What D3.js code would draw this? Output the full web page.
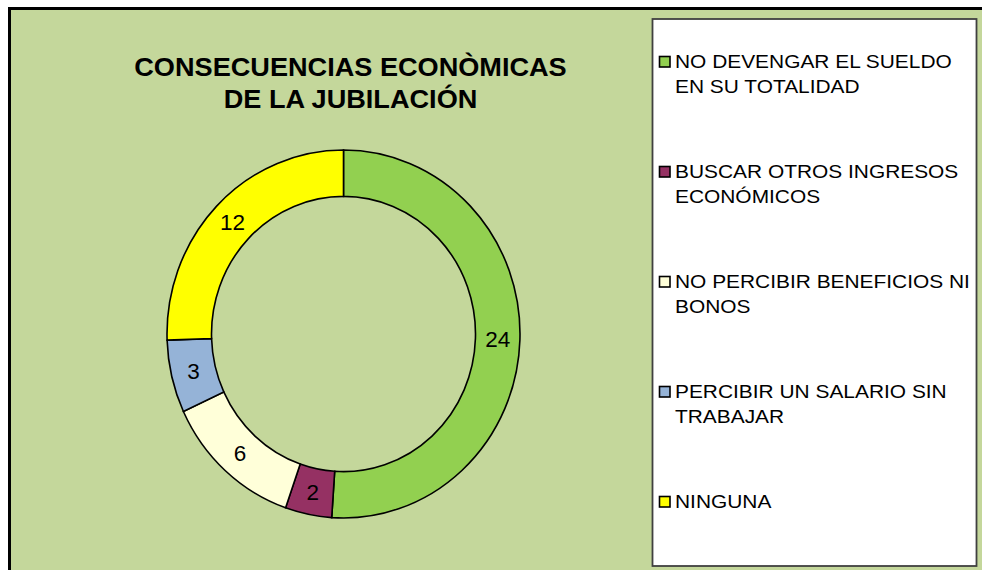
<!DOCTYPE html>
<html>
<head>
<meta charset="utf-8">
<script src="https://cdn.jsdelivr.net/npm/d3@7/dist/d3.min.js"></script>
<style>
  html, body { margin: 0; padding: 0; background: #ffffff; }
  svg { display: block; }
</style>
</head>
<body>
<svg id="chart" width="982" height="570"></svg>
<script>
const titleLines = ["CONSECUENCIAS ECONÒMICAS", "DE LA JUBILACIÓN"];
const categories = [
  ["NO DEVENGAR EL SUELDO", "EN SU TOTALIDAD"],
  ["BUSCAR OTROS INGRESOS", "ECONÓMICOS"],
  ["NO PERCIBIR BENEFICIOS NI", "BONOS"],
  ["PERCIBIR UN SALARIO SIN", "TRABAJAR"],
  ["NINGUNA"]
];
const values = [24, 2, 6, 3, 12];
const colors = ["#92d050", "#953163", "#ffffd9", "#95b3d7", "#ffff00"];

const svg = d3.select("#chart");

// frame
svg.append("rect").attr("x", 8).attr("y", 7).attr("width", 990).attr("height", 580).attr("fill", "#000");
svg.append("rect").attr("x", 11).attr("y", 10).attr("width", 990).attr("height", 580).attr("fill", "#c4d79b");

// title (slightly wide glyphs as in the reference)
const titleX = 350.5, sx = 1.085;
const title = svg.append("g")
  .attr("transform", `translate(${titleX},0) scale(${sx},1)`)
  .append("text")
  .attr("text-anchor", "middle")
  .attr("font-family", "Liberation Sans, Arial, sans-serif")
  .attr("font-weight", "bold")
  .attr("font-size", 25)
  .attr("fill", "#000");
titleLines.forEach((t, i) => {
  title.append("tspan").attr("x", 0).attr("y", 76.5 + i * 32).text(t);
});

// donut
const cx = 343.5, cy = 334, rOuter = 176.5, rInner = 132, yScale = 184 / 176.5;
const pie = d3.pie().sort(null).value(d => d);
const arcs = pie(values);
const arc = d3.arc().innerRadius(rInner).outerRadius(rOuter);
const labelArc = d3.arc().innerRadius((rInner + rOuter) / 2).outerRadius((rInner + rOuter) / 2);

const g = svg.append("g").attr("transform", `translate(${cx},${cy}) scale(1,${yScale})`);
g.selectAll("path")
  .data(arcs)
  .join("path")
  .attr("d", arc)
  .attr("fill", (d, i) => colors[i])
  .attr("stroke", "#000")
  .attr("stroke-width", 1.6)
  .attr("vector-effect", "non-scaling-stroke");

svg.append("g").attr("transform", `translate(${cx},${cy})`)
  .selectAll("text")
  .data(arcs)
  .join("text")
  .attr("x", d => labelArc.centroid(d)[0])
  .attr("y", d => labelArc.centroid(d)[1] * yScale)
  .attr("dy", "0.36em")
  .attr("text-anchor", "middle")
  .attr("font-family", "Liberation Sans, Arial, sans-serif")
  .attr("font-size", 22.5)
  .attr("fill", "#000")
  .text(d => d.data);

// legend
svg.append("rect")
  .attr("x", 652.5).attr("y", 19).attr("width", 324).attr("height", 547)
  .attr("fill", "#ffffff").attr("stroke", "#404040").attr("stroke-width", 1.8);

const leg = svg.append("g");
categories.forEach((lines, i) => {
  const base = 68 + i * 110;
  leg.append("rect")
    .attr("x", 659.5).attr("y", base - 11.5).attr("width", 10.5).attr("height", 10.5)
    .attr("fill", colors[i]).attr("stroke", "#000").attr("stroke-width", 1.6);
  const t = leg.append("g")
    .attr("transform", "translate(675,0) scale(1.1,1)")
    .append("text")
    .attr("font-family", "Liberation Sans, Arial, sans-serif")
    .attr("font-size", 19)
    .attr("fill", "#000");
  lines.forEach((l, j) => {
    t.append("tspan").attr("x", 0).attr("y", base + j * 25).text(l);
  });
});
</script>
</body>
</html>
